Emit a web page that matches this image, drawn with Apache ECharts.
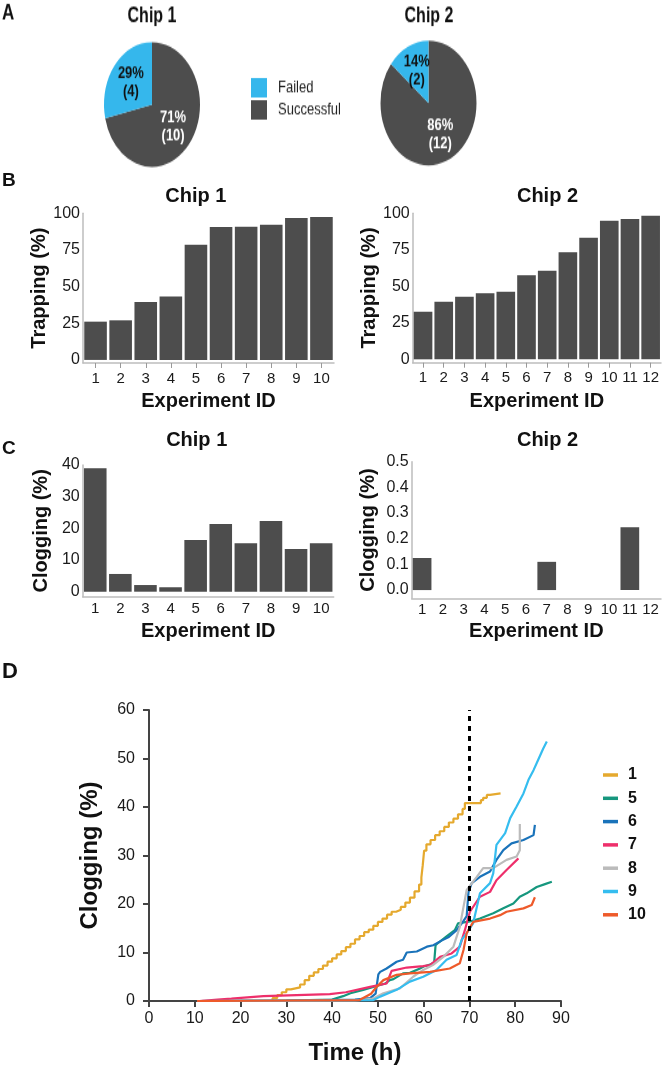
<!DOCTYPE html>
<html>
<head>
<meta charset="utf-8">
<title>Trapping and clogging per chip</title>
<script src="https://cdn.jsdelivr.net/npm/echarts@6.0.0/dist/echarts.min.js"></script>
<style>
html,body{margin:0;padding:0;background:#fff;}
#main{position:absolute;left:0;top:0;width:665px;height:1074px;}
/* panel A is drawn squashed and stretched back, the pies in the figure are taller than wide */
#pies{position:absolute;left:0;top:0;width:665px;height:131px;transform:scaleY(1.3);transform-origin:0 0;}
</style>
</head>
<body>
<div id="main"></div>
<div id="pies"></div>
<script>
var FONT='"Liberation Sans", Arial, sans-serif';

// A: experiment outcome counts
var outcomeNames=['Failed','Successful'];
var outcomeColors=['#35B7EC','#4D4D4D'];
var chip1Outcome=[4,10];
var chip2Outcome=[2,12];

// B/C: per experiment
var chip1Ids=['1','2','3','4','5','6','7','8','9','10'];
var chip2Ids=['1','2','3','4','5','6','7','8','9','10','11','12'];
var trapChip1=[26.1,27.0,39.5,43.2,78.6,90.7,90.9,92.2,96.8,97.5];
var trapChip2=[32.6,39.5,42.9,45.2,46.3,57.5,60.7,73.3,83.3,94.9,96.1,98.4];
var clogChip1=[39.0,5.6,2.1,1.4,16.3,21.4,15.3,22.3,13.5,15.3];
var clogChip2=[0.125,0,0,0,0,0,0.11,0,0,0,0.245,0];
var trapTicks=[0,25,50,75,100];
var clogTicks1=[0,10,20,30,40];
var clogTicks2=[0,0.1,0.2,0.3,0.4,0.5];

// D: clogging over time, [time h, clogging %]
var expNames=['1','5','6','7','8','9','10'];
var expColors=['#E5A92E','#16977E','#1A73BA','#EE2F6B','#BBBBBB','#35BDEF','#EE5A2A'];
var exp1=[[10.5,0],[26,0],[27,0.6],[28,1.2],[29,1.8],[30,2.4],[31,2.6],[32,2.8],[33,3.4],[34,4.3],[35,5.2],[36,5.9],[37,6.6],[38,7.3],[39,8.1],[40,8.8],[41,9.6],[42,10.3],[43,11.1],[44,11.8],[45,12.7],[46,13.4],[47,14.2],[48,14.7],[49,15.5],[50,16.3],[51,17.0],[52,17.8],[53,18.4],[54,18.8],[55,19.4],[56,20.3],[57,21.3],[58,22.6],[59,24.0],[59.5,25.5],[59.8,28],[60.1,31],[60.6,32.3],[61.5,33.2],[62.5,34.2],[63.5,35.0],[64.5,35.9],[65.5,36.8],[66.5,37.6],[67.5,38.5],[68.5,39.6],[69,40.8],[72,40.8],[72.5,41.4],[73,41.9],[73.8,42.5],[74.5,42.8],[76.8,42.8]];
var exp5=[[10.5,0],[30,0.1],[40,0.3],[42.4,1.0],[44,1.6],[46.8,2.3],[49,2.9],[51.6,3.6],[52.6,4.3],[53.4,4.5],[55.5,5.7],[57,5.8],[59.2,6.7],[60,7.1],[61.4,7.5],[62.3,8.0],[62.6,11.5],[63.2,12.0],[65,13.3],[66.8,14.6],[67.5,16.0],[70.1,16.4],[72.3,17.0],[75.2,18.1],[77.4,19.1],[79.6,20.1],[81,21.5],[82.5,22.2],[84.7,23.5],[86.5,24.1],[88,24.6]];
var exp6=[[10.5,0],[30,0.1],[45,0.3],[48.3,0.6],[49.5,1.5],[50.1,5.5],[50.5,6.0],[51.9,6.7],[54.1,8.1],[55.5,8.5],[56.3,10.0],[58.5,10.2],[60.7,11.2],[62.1,11.5],[64,12.5],[65.5,13.2],[67.2,14.6],[68.7,16.5],[69.4,17.5],[69.8,22.5],[70.5,24.3],[72.3,25.6],[74.5,26.7],[75.9,29.1],[77.4,31.1],[79.2,32.5],[81.8,33.2],[84,34.2],[84.3,36.3]];
var exp7=[[11,0],[15,0.3],[18,0.5],[25,1.0],[39.5,1.4],[43,1.8],[48.3,2.9],[51.9,3.6],[53,6.2],[56.3,6.9],[59.9,7.2],[61.4,7.4],[63.6,9.1],[66.1,9.8],[67.9,11.2],[69,14.6],[70.1,18.4],[72.3,21.5],[74.5,22.5],[75.9,24.9],[78.1,27.0],[80.7,29.4]];
var exp8=[[10.5,0],[45,0.1],[49,0.5],[51.2,1.6],[54.8,2.6],[57.7,5.0],[59.9,6.4],[62,7.4],[64.3,9.1],[66.5,11.2],[67.9,15.3],[68.7,19.4],[69.4,22.9],[71.6,25.6],[73,27.4],[75.2,27.4],[78.1,29.1],[80.3,29.8],[81,31.1],[81,36.5]];
var exp9=[[10.5,0],[49,0.2],[50.5,0.9],[54.1,2.3],[57,4.0],[59.9,5.0],[62.8,6.4],[65,8.5],[67.2,9.5],[68.3,12.6],[69.4,14.0],[70.8,16.0],[72.3,22.2],[74.5,24.3],[75.2,26.3],[75.9,32.2],[77.8,34.6],[78.9,37.7],[80.3,40.1],[81.8,42.8],[82.9,45.6],[84,47.6],[85,49.7],[86.1,52.0],[86.9,53.5]];
var exp10=[[10.5,0],[46,0.2],[48.5,1.5],[49.7,2.9],[51.2,4.3],[54.1,5.4],[57,5.7],[61.4,6.0],[65.7,6.7],[67.9,7.8],[68.7,10.5],[69.4,14.0],[70.8,16.3],[74.5,17.0],[76.7,17.7],[78.1,18.4],[81.8,19.1],[83.6,19.8],[84.3,21.4]];
var expData=[exp1,exp5,exp6,exp7,exp8,exp9,exp10];
var mediumChange=70;

function label(x,y,text,size,align){
	return {type:'text',x:x,y:y,silent:true,style:{text:text,fontSize:size,fontWeight:'bold',fontFamily:FONT,fill:'#111',align:align||'center',verticalAlign:'middle'}};
}

var fig={
	init:function(){
		fig.loadPies();
		fig.loadMain();
	},
	loadPies:function(){
		var chart=echarts.init(document.getElementById('pies'));
		function pieSeries(counts,cx,cy){
			//successful first, so failed sits left of 12 o'clock
			return {
				type:'pie',radius:48,center:[cx,cy],startAngle:90,silent:true,
				label:{position:'inside',fontSize:13,fontWeight:'bold',lineHeight:14,fontFamily:FONT,
					formatter:function(p){return Math.round(p.percent)+'%\n('+p.value+')';}},
				labelLine:{show:false},
				data:[
					{name:outcomeNames[1],value:counts[1],itemStyle:{color:outcomeColors[1]},label:{color:'#fff'}},
					{name:outcomeNames[0],value:counts[0],itemStyle:{color:outcomeColors[0]},label:{color:'#111'}}
				]
			};
		}
		chart.setOption({
			animation:false,
			textStyle:{fontFamily:FONT},
			legend:{
				data:outcomeNames,orient:'vertical',left:251,top:60,padding:0,icon:'rect',
				itemWidth:16,itemHeight:15,itemGap:2,selectedMode:false,
				textStyle:{fontSize:13,color:'#222',lineHeight:15,padding:[0,0,0,6]}
			},
			graphic:[label(2,10.4,'A',17,'left'),label(152,12.3,'Chip 1',16),label(429,12.3,'Chip 2',16)],
			series:[pieSeries(chip1Outcome,152,80.4),pieSeries(chip2Outcome,428.5,79.2)]
		});
	},
	loadMain:function(){
		var chart=echarts.init(document.getElementById('main'));
		var grids=[
			{left:83,top:213.3,width:251,height:149.7},
			{left:412.7,top:213.3,width:248.3,height:149.4},
			{left:82.7,top:465,width:251,height:131.7},
			{left:411.7,top:461.7,width:249.3,height:136.6},
			{left:149,top:710,width:412,height:291}
		];
		grids.forEach(function(g){g.outerBoundsMode='none';g.containLabel=false;});
		var barPanels=[
			{ids:chip1Ids,vals:trapChip1,min:-2.1,max:100,ticks:trapTicks,name:'Trapping (%)',yGap:30,xGap:28.7,tick:true,margin:8,dec:0},
			{ids:chip2Ids,vals:trapChip2,min:-2.3,max:100,ticks:trapTicks,name:'Trapping (%)',yGap:32.7,xGap:28.7,tick:true,margin:8,dec:0},
			{ids:chip1Ids,vals:clogChip1,min:-1.58,max:40,ticks:clogTicks1,name:'Clogging (%)',yGap:31.7,xGap:25,tick:false,margin:5,dec:0},
			{ids:chip2Ids,vals:clogChip2,min:-0.032,max:0.5,ticks:clogTicks2,name:'Clogging (%)',yGap:33.7,xGap:23.4,tick:false,margin:4,dec:1}
		];
		var xAxes=[],yAxes=[],series=[];
		var nameStyle={fontSize:20,fontWeight:'bold',color:'#111',fontFamily:FONT};
		barPanels.forEach(function(p,i){
			xAxes.push({
				gridIndex:i,type:'category',data:p.ids,
				axisLine:{onZero:false,lineStyle:{color:'#bdbdbd',width:1.5}},
				axisTick:{show:p.tick,alignWithLabel:true,length:5,lineStyle:{color:'#999'}},
				axisLabel:{fontSize:15,color:'#1a1a1a',margin:p.margin,interval:0},
				name:'Experiment ID',nameLocation:'middle',nameGap:p.xGap,nameTextStyle:nameStyle
			});
			yAxes.push({
				gridIndex:i,type:'value',min:p.min,max:p.max,
				axisLine:{show:true,lineStyle:{color:'#bdbdbd',width:1.5}},
				axisTick:{show:false},splitLine:{show:false},
				axisLabel:{fontSize:16,color:'#1a1a1a',margin:3,customValues:p.ticks,
					formatter:(function(d){return function(v){return v.toFixed(d);};})(p.dec)},
				name:p.name,nameLocation:'middle',nameGap:p.yGap,nameTextStyle:nameStyle
			});
			series.push({
				type:'bar',xAxisIndex:i,yAxisIndex:i,data:p.vals,silent:true,
				barCategoryGap:'10%',itemStyle:{color:'#4D4D4D'}
			});
		});
		//panel D
		var dAxisLine={show:true,lineStyle:{color:'#444',width:2}};
		var dTick={show:true,length:6,lineStyle:{color:'#444',width:2}};
		var dName={fontSize:24,fontWeight:'bold',color:'#111',fontFamily:FONT};
		xAxes.push({
			gridIndex:4,type:'value',min:0,max:90,interval:10,
			axisLine:dAxisLine,axisTick:dTick,splitLine:{show:false},
			axisLabel:{fontSize:16,color:'#1a1a1a',margin:10},
			name:'Time (h)',nameLocation:'middle',nameGap:40,nameTextStyle:dName
		});
		yAxes.push({
			gridIndex:4,type:'value',min:0,max:60,interval:10,
			axisLine:dAxisLine,axisTick:dTick,splitLine:{show:false},
			axisLabel:{fontSize:16,color:'#1a1a1a',margin:14},
			name:'Clogging (%)',nameLocation:'middle',nameGap:47,nameTextStyle:dName
		});
		expNames.forEach(function(n,i){
			var s={
				name:n,type:'line',xAxisIndex:4,yAxisIndex:4,data:expData[i],
				showSymbol:false,symbol:'none',silent:true,
				lineStyle:{width:2.2,color:expColors[i]},itemStyle:{color:expColors[i]}
			};
			if(n==='1'){
				s.step='end';
				s.markLine={
					silent:true,symbol:['none','none'],label:{show:false},
					lineStyle:{type:[5,5],color:'#000',width:3},
					data:[{xAxis:mediumChange}]
				};
			}
			series.push(s);
		});
		chart.setOption({
			animation:false,
			textStyle:{fontFamily:FONT},
			grid:grids,
			xAxis:xAxes,
			yAxis:yAxes,
			legend:{
				data:expNames,orient:'vertical',left:603,top:766,padding:0,icon:'rect',
				itemWidth:15,itemHeight:3.5,itemGap:5.3,selectedMode:false,
				textStyle:{fontSize:16,fontWeight:'bold',color:'#111',lineHeight:18,padding:[0,0,0,5]}
			},
			graphic:[
				label(2,181,'B',19,'left'),label(195.8,196.7,'Chip 1',20),label(547.5,196.7,'Chip 2',20),
				label(2,449,'C',19,'left'),label(196.7,440,'Chip 1',20),label(547.5,440,'Chip 2',20),
				label(2,672,'D',22,'left')
			],
			series:series
		});
	}
};
window.onload=fig.init;
</script>
</body>
</html>
